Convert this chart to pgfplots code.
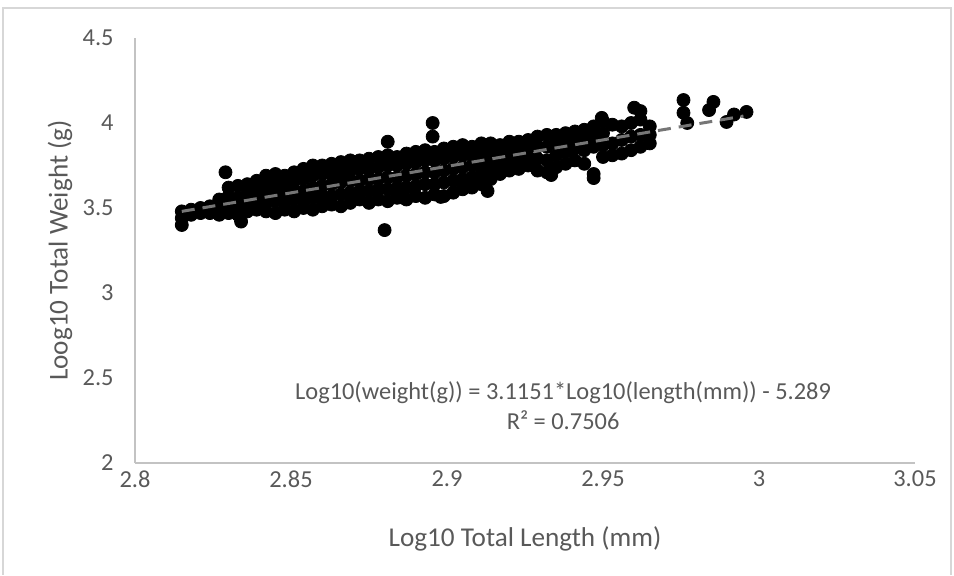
\documentclass[border=0pt]{standalone}
\usepackage{fontspec}
\setmainfont{Carlito}
\usepackage{pgfplots}
\pgfplotsset{compat=1.18}

\definecolor{txtgray}{RGB}{89,89,89}
\definecolor{axgray}{RGB}{195,195,195}
\definecolor{trendgray}{RGB}{118,118,118}
\definecolor{framegray}{RGB}{215,215,215}

\begin{document}
\begin{tikzpicture}
\begin{axis}[
  set layers,
  scale only axis,
  width=390pt, height=212.5pt,
  xmin=2.8, xmax=3.05, ymin=2, ymax=4.5,
  axis lines=left,
  axis line style={-, draw=axgray, line width=1pt},
  major tick length=0pt,
  xtick={2.8,2.85,2.9,2.95,3,3.05},
  xticklabels={2.8,2.85,2.9,2.95,3,3.05},
  ytick={2,2.5,3,3.5,4,4.5},
  yticklabels={2,2.5,3,3.5,4,4.5},
  tick label style={font=\fontsize{12.2}{14}\selectfont, text=txtgray},
  xticklabel style={anchor=center, yshift=-8pt},
  yticklabel style={anchor=east, inner sep=0pt, xshift=-10.5pt},
  xlabel={Log10 Total Length (mm)},
  ylabel={Loog10 Total Weight (g)},
  label style={font=\fontsize{13.6}{16}\selectfont, text=txtgray},
  xlabel style={at={(axis description cs:0.5,-0.179)}, anchor=center},
  ylabel style={at={(axis description cs:-0.096,0.5)}, anchor=center},
]

% measurements (black dots)
\addplot[only marks, mark=*, mark size=3.25pt, mark options={fill=black, draw=black}] table {
x y
2.815 3.40
2.815 3.44
2.815 3.48
2.818 3.46
2.818 3.49
2.821 3.47
2.821 3.50
2.824 3.47
2.824 3.51
2.827 3.46
2.827 3.50
2.827 3.55
2.830 3.47
2.830 3.52
2.830 3.57
2.830 3.62
2.833 3.46
2.833 3.51
2.833 3.56
2.833 3.63
2.836 3.48
2.836 3.53
2.836 3.58
2.836 3.64
2.839 3.49
2.839 3.54
2.839 3.60
2.839 3.66
2.842 3.48
2.842 3.53
2.842 3.58
2.842 3.63
2.842 3.69
2.845 3.47
2.845 3.54
2.845 3.60
2.845 3.65
2.845 3.70
2.848 3.49
2.848 3.53
2.848 3.59
2.848 3.64
2.848 3.69
2.851 3.48
2.851 3.55
2.851 3.60
2.851 3.66
2.851 3.71
2.854 3.50
2.854 3.54
2.854 3.60
2.854 3.67
2.854 3.73
2.857 3.49
2.857 3.56
2.857 3.62
2.857 3.69
2.857 3.75
2.860 3.51
2.860 3.57
2.860 3.63
2.860 3.70
2.860 3.75
2.863 3.52
2.863 3.57
2.863 3.64
2.863 3.70
2.863 3.76
2.866 3.51
2.866 3.58
2.866 3.65
2.866 3.71
2.866 3.77
2.869 3.53
2.869 3.59
2.869 3.66
2.869 3.72
2.869 3.78
2.872 3.55
2.872 3.60
2.872 3.66
2.872 3.73
2.872 3.78
2.875 3.53
2.875 3.60
2.875 3.67
2.875 3.73
2.875 3.79
2.878 3.55
2.878 3.61
2.878 3.67
2.878 3.74
2.878 3.80
2.881 3.54
2.881 3.61
2.881 3.68
2.881 3.75
2.881 3.81
2.884 3.56
2.884 3.62
2.884 3.68
2.884 3.75
2.884 3.80
2.887 3.55
2.887 3.62
2.887 3.69
2.887 3.76
2.887 3.82
2.890 3.57
2.890 3.63
2.890 3.70
2.890 3.77
2.890 3.83
2.893 3.56
2.893 3.64
2.893 3.71
2.893 3.78
2.893 3.84
2.896 3.58
2.896 3.64
2.896 3.71
2.896 3.78
2.896 3.83
2.899 3.57
2.899 3.65
2.899 3.72
2.899 3.79
2.899 3.85
2.902 3.59
2.902 3.66
2.902 3.73
2.902 3.80
2.902 3.86
2.905 3.61
2.905 3.67
2.905 3.74
2.905 3.81
2.905 3.87
2.908 3.62
2.908 3.68
2.908 3.75
2.908 3.81
2.908 3.86
2.911 3.64
2.911 3.70
2.911 3.76
2.911 3.82
2.911 3.88
2.914 3.67
2.914 3.72
2.914 3.78
2.914 3.83
2.914 3.88
2.917 3.70
2.917 3.76
2.917 3.82
2.917 3.87
2.920 3.72
2.920 3.78
2.920 3.84
2.920 3.89
2.923 3.73
2.923 3.79
2.923 3.85
2.923 3.89
2.926 3.75
2.926 3.80
2.926 3.86
2.926 3.90
2.929 3.72
2.929 3.79
2.929 3.86
2.929 3.92
2.932 3.71
2.932 3.78
2.932 3.86
2.932 3.93
2.935 3.74
2.935 3.81
2.935 3.88
2.935 3.93
2.938 3.76
2.938 3.83
2.938 3.89
2.938 3.94
2.941 3.78
2.941 3.85
2.941 3.90
2.941 3.95
2.944 3.76
2.944 3.84
2.944 3.91
2.944 3.96
2.947 3.70
2.947 3.86
2.947 3.92
2.947 3.98
2.950 3.80
2.950 3.87
2.950 3.94
2.950 4.01
2.953 3.81
2.953 3.88
2.953 3.99
2.956 3.82
2.956 3.90
2.956 3.98
2.959 3.84
2.959 3.92
2.959 4.00
2.962 3.86
2.962 3.93
2.962 4.02
2.962 4.07
2.965 3.88
2.965 3.93
2.965 3.98
2.829 3.71
2.834 3.42
2.880 3.37
2.881 3.89
2.8954 4.00
2.8954 3.92
2.913 3.60
2.898 3.565
2.886 3.56
2.9334 3.694
2.947 3.676
2.9496 4.03
2.960 4.09
2.9758 4.135
2.9758 4.06
2.977 4.00
2.9854 4.124
2.984 4.076
2.9896 4.006
2.992 4.05
2.996 4.065
};

% linear trendline, drawn above the dots
\addplot[on layer=axis foreground, trendgray, line width=1.5pt, dash pattern=on 6.5pt off 4pt] coordinates {
(2.815,3.4800) (2.995,4.0407)
};

\node[align=center, font=\fontsize{12.2}{15}\selectfont, text=txtgray]
  at (axis cs:2.9372,2.335) {Log10(weight(g)) = 3.1151*Log10(length(mm)) - 5.289\\R² = 0.7506};
\end{axis}
% page: 954 x 575 px at 0.5pt per px, axis corner at px (135,463)
\draw[framegray, line width=0.8pt] (-66pt,-56pt) -- (-66pt,227.5pt) -- (408pt,227.5pt) -- (408pt,-56pt);
\path[use as bounding box] (-67.5pt,-56pt) rectangle (409.5pt,231.5pt);
\end{tikzpicture}
\end{document}
